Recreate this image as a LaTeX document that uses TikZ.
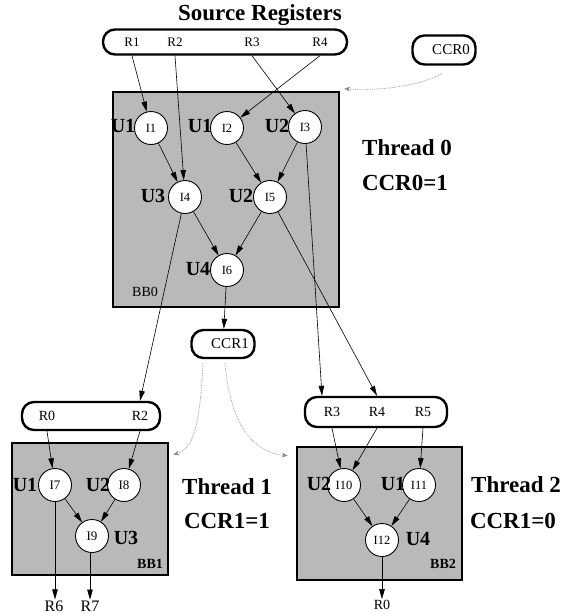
\documentclass[tikz,border=0pt]{standalone}
\usepackage{fontspec}
\setmainfont{Liberation Serif}
\usetikzlibrary{calc,arrows.meta,positioning}
\definecolor{bbgray}{HTML}{B9B9B9}
\definecolor{ctrlgray}{HTML}{8A8A8A}

\begin{document}
\begin{tikzpicture}[x=1pt,y=-1pt,
  insn/.style={circle,draw,fill=white,line width=.9pt,minimum size=33pt,inner sep=0pt,font=\fontsize{12.5}{12.5}\selectfont},
  unit/.style={font=\fontsize{20}{20}\selectfont\bfseries,inner sep=0pt},
  reg/.style={font=\fontsize{14}{14}\selectfont,inner sep=1pt},
  pill/.style={draw,line width=2.4pt,rounded corners=12pt,fill=white,inner sep=0pt},
  bblock/.style={draw,line width=2.6pt,fill=bbgray,inner sep=0pt},
  bbname/.style={font=\fontsize{14}{14}\selectfont,inner sep=0pt},
  flow/.style={-{Triangle[length=10pt,width=5.5pt]},line width=.6pt},
  ctrl/.style={-{Stealth[length=6pt,width=5pt]},densely dotted,ctrlgray,line width=.7pt},
  thread/.style={font=\fontsize{23}{23}\selectfont\bfseries,inner sep=0pt}]
\useasboundingbox (0,0) rectangle (563,614);

% source registers
\node[font=\fontsize{23}{23}\selectfont\bfseries] (srctitle) at (260,15) {Source Registers};
\node[pill,minimum width=244pt,minimum height=25pt] (srcpill) at (225,42) {};
\node[reg,font=\fontsize{13}{13}\selectfont] (r1) at (132,42) {R1};
\node[reg,font=\fontsize{13}{13}\selectfont] (r2) at (175,42) {R2};
\node[reg,font=\fontsize{13}{13}\selectfont] (r3) at (252,42) {R3};
\node[reg,font=\fontsize{13}{13}\selectfont] (r4) at (320,42) {R4};
\node[pill,minimum width=63pt,minimum height=29pt] (ccr0) at (444,50) {};
\node[reg,font=\fontsize{15}{15}\selectfont] (ccr0lbl) at (451,50) {CCR0};

% BB0
\node[bblock,minimum width=226pt,minimum height=215pt] (bb0) at (226,199.5) {};
\node[insn] (i1) at (151,128) {I1};
\node[insn] (i2) at (227,128) {I2};
\node[insn] (i3) at (305,127) {I3};
\node[insn] (i4) at (185,197) {I4};
\node[insn] (i5) at (270,197) {I5};
\node[insn] (i6) at (227,270) {I6};
\node[unit] (u1a) at (123,126) {U1};
\node[unit] (u1b) at (200,126) {U1};
\node[unit] (u2a) at (277,126) {U2};
\node[unit] (u3a) at (153,196) {U3};
\node[unit] (u2b) at (241,196) {U2};
\node[unit] (u4a) at (198,269) {U4};
\node[bbname] (bb0lbl) at (145,292) {BB0};
\node[thread] (thr0) at (407,148) {Thread 0};
\node[thread] (cond0) at (405,183) {CCR0=1};

\draw[flow] (r1 |- srcpill.south) -- (i1);
\draw[flow] (r2 |- srcpill.south) -- (i4);
\draw[flow] (r3 |- srcpill.south) -- (i3);
\draw[flow] (r4 |- srcpill.south) -- (i2);
\draw[flow] (i1) -- (i4);
\draw[flow] (i2) -- (i5);
\draw[flow] (i3) -- (i5);
\draw[flow] (i4) -- (i6);
\draw[flow] (i5) -- (i6);
\draw[ctrl] ([xshift=-2pt,yshift=-8pt]ccr0.south) .. controls (420,86) and (380,91) .. ([xshift=4pt,yshift=2pt]bb0.north east);

% CCR1
\node[pill,minimum width=63pt,minimum height=28pt] (ccr1) at (223,344) {};
\node[reg,font=\fontsize{15}{15}\selectfont] (ccr1lbl) at (230,344) {CCR1};
\draw[flow] (i6) -- (ccr1);

% BB1
\node[pill,minimum width=138pt,minimum height=28pt] (bb1pill) at (91,416) {};
\node[reg] (r0b) at (47,416) {R0};
\node[reg] (r2b) at (140,416) {R2};
\node[bblock,minimum width=156pt,minimum height=132pt] (bb1) at (90,509) {};
\node[insn,font=\fontsize{13}{13}\selectfont] (i7) at (55,485) {I7};
\node[insn,font=\fontsize{13}{13}\selectfont] (i8) at (124,485) {I8};
\node[insn,font=\fontsize{13}{13}\selectfont] (i9) at (92,536) {I9};
\node[unit] (u1c) at (25,485) {U1};
\node[unit] (u2c) at (98,485) {U2};
\node[unit] (u3c) at (126,538) {U3};
\node[bbname,font=\fontsize{14}{14}\selectfont\bfseries] (bb1lbl) at (150,564) {BB1};
\node[thread] (thr1) at (227,487) {Thread 1};
\node[thread] (cond1) at (227,521) {CCR1=1};
\node[reg,font=\fontsize{16}{16}\selectfont] (r6) at (54,606) {R6};
\node[reg,font=\fontsize{16}{16}\selectfont] (r7) at (90,606) {R7};

\draw[flow] (i4) -- (r2b |- bb1pill.north);
\draw[flow] (r0b |- bb1pill.south) -- (i7);
\draw[flow] (r2b |- bb1pill.south) -- (i8);
\draw[flow] (i7) -- (i9);
\draw[flow] (i8) -- (i9);
\draw[flow] (i7) -- (i7 |- r6.north);
\draw[flow] (i9.south -| r7) -- (r7.north);

% BB2
\node[pill,minimum width=142pt,minimum height=30pt] (bb2pill) at (376,412) {};
\node[reg] (r3c) at (332,412) {R3};
\node[reg] (r4c) at (377,412) {R4};
\node[reg] (r5c) at (423,412) {R5};
\node[bblock,minimum width=165pt,minimum height=133pt] (bb2) at (379.5,513.5) {};
\node[insn] (i10) at (344,485) {I10};
\node[insn] (i11) at (419,485) {I11};
\node[insn] (i12) at (382,540) {I12};
\node[unit] (u2d) at (319,484) {U2};
\node[unit] (u1d) at (393,484) {U1};
\node[unit] (u4d) at (418,539) {U4};
\node[bbname,font=\fontsize{14}{14}\selectfont\bfseries] (bb2lbl) at (443,564) {BB2};
\node[thread] (thr2) at (516,485) {Thread 2};
\node[thread] (cond2) at (513,521) {CCR1=0};
\node[reg] (r0out) at (382,605) {R0};

\draw[flow] (i3) -- ([xshift=-10pt]r3c |- bb2pill.north);
\draw[flow] (i5) -- (r4c |- bb2pill.north);
\draw[flow] (r3c |- bb2pill.south) -- (i10);
\draw[flow] (r4c |- bb2pill.south) -- (i10);
\draw[flow] (r5c |- bb2pill.south) -- (i11);
\draw[flow] (i10) -- (i12);
\draw[flow] (i11) -- (i12);
\draw[flow] (i12) -- (r0out);

% control from CCR1
\draw[ctrl] ([xshift=-20pt,yshift=-4pt]ccr1.south) .. controls (200,420) and (195,448) .. ([xshift=4pt,yshift=-13pt]bb1.north east);
\draw[ctrl] ([xshift=2pt,yshift=-4pt]ccr1.south) .. controls (230,420) and (250,452) .. ([xshift=-8pt,yshift=-10pt]bb2.north west);
\end{tikzpicture}
\end{document}
